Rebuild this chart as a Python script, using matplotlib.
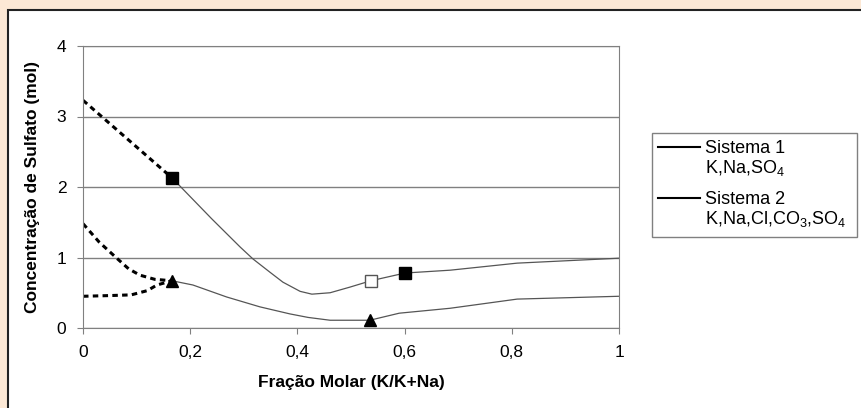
import numpy as np
import matplotlib.pyplot as plt
from matplotlib.patches import Rectangle

plt.rcParams['font.family'] = ['Liberation Sans', 'DejaVu Sans']
plt.rcParams['mathtext.default'] = 'regular'

# Sistema 1 (K,Na,SO4)
s1_dash_x = [0.0, 0.166]
s1_dash_y = [3.23, 2.13]
s1_x = [0.166, 0.24, 0.293, 0.317, 0.349, 0.373, 0.405, 0.427, 0.461, 0.498, 0.537, 0.601, 0.685, 0.81, 1.0]
s1_y = [2.13, 1.55, 1.15, 0.98, 0.79, 0.65, 0.52, 0.48, 0.50, 0.58, 0.67, 0.78, 0.82, 0.92, 0.99]
s1_mk_x = [0.166, 0.601]
s1_mk_y = [2.13, 0.78]
s1_open_x = [0.537]
s1_open_y = [0.67]

# Sistema 2 (K,Na,Cl,CO3,SO4)
s2_dash1_x = [0.0, 0.03, 0.063, 0.085, 0.106, 0.134, 0.166]
s2_dash1_y = [1.48, 1.22, 0.99, 0.84, 0.75, 0.69, 0.67]
s2_dash2_x = [0.0, 0.05, 0.09, 0.12, 0.138, 0.166]
s2_dash2_y = [0.45, 0.46, 0.47, 0.53, 0.61, 0.67]
s2_x = [0.166, 0.205, 0.268, 0.33, 0.386, 0.42, 0.461, 0.535, 0.59, 0.685, 0.81, 1.0]
s2_y = [0.67, 0.61, 0.44, 0.30, 0.20, 0.15, 0.11, 0.11, 0.21, 0.28, 0.41, 0.45]
s2_mk_x = [0.166, 0.535]
s2_mk_y = [0.67, 0.11]

leg_titles = ['Sistema 1', 'Sistema 2']
leg_species = ['K,Na,SO$_4$', 'K,Na,Cl,CO$_3$,SO$_4$']

fig = plt.figure(figsize=(8.61, 4.08), dpi=100)
fig.patch.set_facecolor('#fce8d5')
# background layer in pixel coordinates: white chart area + legend
bg = fig.add_axes([0, 0, 1, 1], zorder=-5)
bg.set_axis_off()
bg.set_xlim(0, 861)
bg.set_ylim(408, 0)
bg.add_patch(Rectangle((8, 10), 900, 420, facecolor='white',
                       edgecolor='#222222', linewidth=1.5))

ax = fig.add_axes([83 / 861, 80 / 408, (619 - 83) / 861, (328 - 46) / 408], zorder=1)
ax.set_facecolor('white')

dash = (0, (1.8, 1.4))
ax.plot(s1_dash_x, s1_dash_y, color='black', lw=2.2, linestyle=dash)
ax.plot(s2_dash1_x, s2_dash1_y, color='black', lw=2.2, linestyle=dash)
ax.plot(s2_dash2_x, s2_dash2_y, color='black', lw=2.2, linestyle=dash)

ax.plot(s1_x, s1_y, color='#555555', lw=0.9)
ax.plot(s2_x, s2_y, color='#555555', lw=0.9)

ax.plot(s1_mk_x, s1_mk_y, 's', color='black', ms=9, zorder=5)
ax.plot(s1_open_x, s1_open_y, 's', mfc='white', mec='#555555', ms=9, mew=1, zorder=5)
ax.plot(s2_mk_x, s2_mk_y, '^', color='black', ms=8, zorder=5)

ax.set_xlim(0, 1)
ax.set_ylim(0, 4)
ax.set_xticks([0, 0.2, 0.4, 0.6, 0.8, 1])
ax.set_xticklabels(['0', '0,2', '0,4', '0,6', '0,8', '1'])
ax.set_yticks([0, 1, 2, 3, 4])
ax.set_yticklabels(['0', '1', '2', '3', '4'])
ax.yaxis.grid(True, color='#808080', lw=1)
ax.set_axisbelow(True)
for s in ax.spines.values():
    s.set_color('#808080')
ax.tick_params(direction='out', length=4, color='#808080', labelsize=12.5, pad=8)

ax.set_xlabel('Fração Molar (K/K+Na)', fontsize=12.5, fontweight='bold', labelpad=11)
ax.set_ylabel('Concentração de Sulfato (mol)', fontsize=12.5, fontweight='bold', labelpad=12)

# legend box drawn by hand so the handle sits on the first text line
bg.add_patch(Rectangle((652, 133), 205, 104, facecolor='white',
                       edgecolor='#808080', linewidth=1))
for i, (t, sp) in enumerate(zip(leg_titles, leg_species)):
    y0 = 147 + 51 * i
    bg.plot([658, 700], [y0, y0], color='black', lw=1.5)
    bg.text(705, y0 + 6, t, fontsize=13, va='baseline', ha='left')
    bg.text(705, y0 + 26, sp, fontsize=13, va='baseline', ha='left')

fig.savefig('out.png', dpi=100, facecolor=fig.get_facecolor())
